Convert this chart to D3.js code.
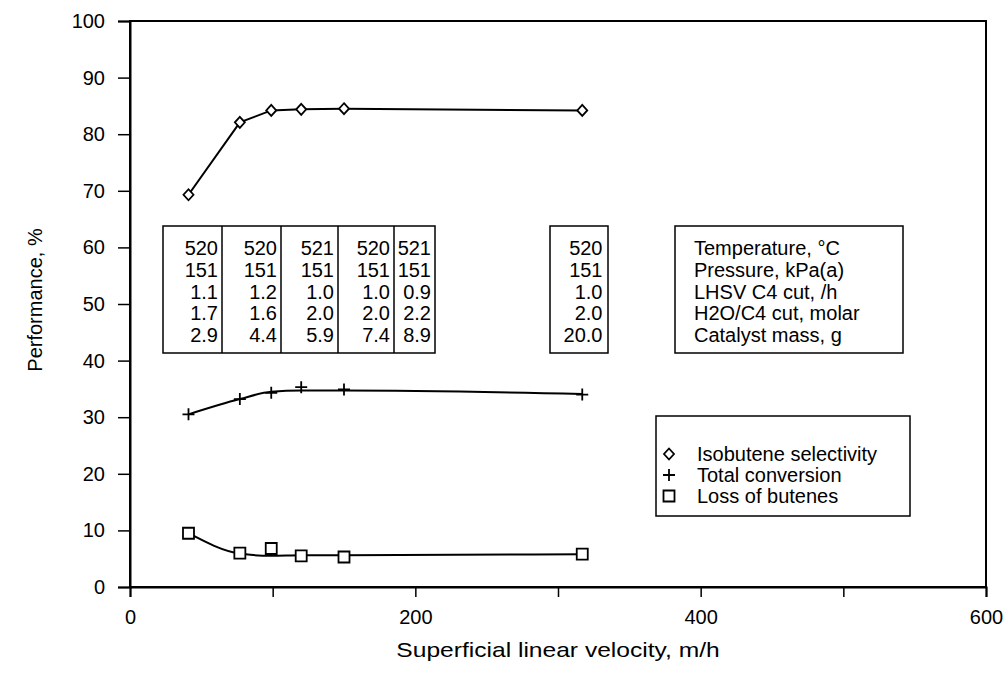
<!DOCTYPE html>
<html>
<head>
<meta charset="utf-8">
<script src="https://cdn.jsdelivr.net/npm/d3@7"></script>
<style>
  html, body { margin: 0; padding: 0; background: #fff; }
  svg { display: block; }
  text { font-family: "Liberation Sans", Arial, sans-serif; fill: #000; }
</style>
</head>
<body>
<svg id="chart" width="1006" height="678"></svg>
<script>
// Measured runs: superficial linear velocity (m/h)
const velocity = [41, 77, 99, 120, 150, 317];

// Performance of each run, %
const isobuteneSelectivity = [69.3, 82.1, 84.2, 84.4, 84.5, 84.2];
const totalConversion      = [30.5, 33.2, 34.3, 35.3, 34.9, 34.0];
const butenesLoss          = [9.5, 6.0, 6.8, 5.5, 5.3, 5.8];

// Smoothed trend lines drawn through the runs
const conversionTrend = [30.5, 33.2, 34.5, 34.7, 34.7, 34.1];
const lossTrend       = [9.5, 5.9, 5.5, 5.6, 5.6, 5.8];

// Operating conditions of each run (one column per run)
const conditionLabels = ["Temperature, °C", "Pressure, kPa(a)", "LHSV C4 cut, /h",
                         "H2O/C4 cut, molar", "Catalyst mass, g"];
const temperature  = ["520", "520", "521", "520", "521", "520"];
const pressure     = ["151", "151", "151", "151", "151", "151"];
const lhsv         = ["1.1", "1.2", "1.0", "1.0", "0.9", "1.0"];
const waterRatio   = ["1.7", "1.6", "2.0", "2.0", "2.2", "2.0"];
const catalystMass = ["2.9", "4.4", "5.9", "7.4", "8.9", "20.0"];

const xTicks = [0, 100, 200, 300, 400, 500, 600];
const xTickLabels = ["0", "", "200", "", "400", "", "600"];
const yTicks = [0, 10, 20, 30, 40, 50, 60, 70, 80, 90, 100];

const seriesNames = ["Isobutene selectivity", "Total conversion", "Loss of butenes"];

// ---- layout ----
const svg = d3.select("#chart");
const m = { left: 130, right: 986, top: 21, bottom: 587 };
const x = d3.scaleLinear().domain([0, 600]).range([m.left, m.right]);
const y = d3.scaleLinear().domain([0, 100]).range([m.bottom, m.top]);
const FS = 20;   // font size

function label(parent, tx, ty, str, anchor = "start", size = FS, sx = 1) {
  return parent.append("text")
    .attr("transform", `translate(${tx},${ty}) scale(${sx},1)`)
    .attr("text-anchor", anchor).attr("font-size", size).text(str);
}
function styleAxisText(g) {
  g.selectAll("text").attr("font-size", FS)
    .attr("font-family", "Liberation Sans, Arial, sans-serif");
}

// frame
svg.append("rect")
  .attr("x", m.left).attr("y", m.top)
  .attr("width", m.right - m.left).attr("height", m.bottom - m.top)
  .attr("fill", "none").attr("stroke", "#000").attr("stroke-width", 2);

// y axis
const yAxis = d3.axisLeft(y).tickValues(yTicks).tickSize(12).tickPadding(13)
  .tickFormat(d3.format("d"));
svg.append("g").attr("transform", `translate(${m.left},0)`).call(yAxis)
  .call(g => g.select(".domain").attr("stroke-width", 2))
  .call(g => g.selectAll(".tick line").attr("stroke-width", 1.5))
  .call(styleAxisText);

// x axis
const xAxis = d3.axisBottom(x).tickValues(xTicks).tickSize(10).tickPadding(13)
  .tickFormat((d, i) => xTickLabels[i]);
svg.append("g").attr("transform", `translate(0,${m.bottom})`).call(xAxis)
  .call(g => g.select(".domain").attr("stroke-width", 2))
  .call(g => g.selectAll(".tick line").attr("stroke-width", 1.5))
  .call(styleAxisText);

// axis titles
svg.append("text")
  .attr("transform", "translate(42,300) rotate(-90)")
  .attr("text-anchor", "middle").attr("font-size", FS)
  .text("Performance, %");
label(svg, (m.left + m.right) / 2, 657, "Superficial linear velocity, m/h", "middle", 20.5, 1.2);

// ---- curves ----
const lineOf = (vals, curve) => d3.line()
  .x((d, i) => x(velocity[i])).y(d => y(d))
  .curve(curve)(vals);

[[isobuteneSelectivity, d3.curveLinear],
 [conversionTrend, d3.curveMonotoneX],
 [lossTrend, d3.curveMonotoneX]].forEach(([vals, curve]) => {
  svg.append("path").attr("d", lineOf(vals, curve))
    .attr("fill", "none").attr("stroke", "#000").attr("stroke-width", 2);
});

// ---- markers ----
const diamond = (cx, cy) => `M${cx},${cy - 5.5}L${cx + 5},${cy}L${cx},${cy + 5.5}L${cx - 5},${cy}Z`;
const plus = (cx, cy) => `M${cx - 6},${cy}H${cx + 6}M${cx},${cy - 6}V${cy + 6}`;
const square = (cx, cy) => `M${cx - 5.5},${cy - 5.5}H${cx + 5.5}V${cy + 5.5}H${cx - 5.5}Z`;

const markerSets = [
  { vals: isobuteneSelectivity, shape: diamond },
  { vals: totalConversion, shape: plus },
  { vals: butenesLoss, shape: square }
];
markerSets.forEach(s => {
  svg.append("g").selectAll("path").data(s.vals).join("path")
    .attr("d", (d, i) => s.shape(x(velocity[i]), y(d)))
    .attr("fill", "#fff").attr("stroke", "#000").attr("stroke-width", 1.8);
});

// ---- conditions tables ----
const conditionRows = [temperature, pressure, lhsv, waterRatio, catalystMass];
const boxTop = 226, boxBottom = 353;
const rowBaseline = [255, 277, 298.5, 320, 341.5];

// first five runs share one ruled table
const tableCols = [163, 222, 281, 338, 394, 435];
svg.append("rect").attr("x", tableCols[0]).attr("y", boxTop)
  .attr("width", tableCols[5] - tableCols[0]).attr("height", boxBottom - boxTop)
  .attr("fill", "#fff").attr("stroke", "#000").attr("stroke-width", 1.5);
tableCols.slice(1, 5).forEach(cx => {
  svg.append("line").attr("x1", cx).attr("x2", cx).attr("y1", boxTop).attr("y2", boxBottom)
    .attr("stroke", "#000").attr("stroke-width", 1.5);
});
for (let c = 0; c < 5; c++) {
  conditionRows.forEach((row, r) => {
    label(svg, tableCols[c + 1] - 4, rowBaseline[r], row[c], "end");
  });
}

// the long-bed run in its own box
svg.append("rect").attr("x", 550).attr("y", boxTop)
  .attr("width", 58).attr("height", boxBottom - boxTop)
  .attr("fill", "#fff").attr("stroke", "#000").attr("stroke-width", 1.5);
conditionRows.forEach((row, r) => {
  label(svg, 602.5, rowBaseline[r], row[5], "end");
});

// row captions
svg.append("rect").attr("x", 675).attr("y", boxTop)
  .attr("width", 228).attr("height", boxBottom - boxTop)
  .attr("fill", "#fff").attr("stroke", "#000").attr("stroke-width", 1.5);
conditionLabels.forEach((t, r) => label(svg, 694, rowBaseline[r], t));

// ---- legend ----
svg.append("rect").attr("x", 656).attr("y", 416).attr("width", 254).attr("height", 100)
  .attr("fill", "#fff").attr("stroke", "#000").attr("stroke-width", 1.5);
const legendShapes = [diamond, plus, square];
seriesNames.forEach((name, i) => {
  const base = 461 + i * 21;
  svg.append("path").attr("d", legendShapes[i](669, base - 7))
    .attr("fill", "#fff").attr("stroke", "#000").attr("stroke-width", 1.8);
  label(svg, 697, base, name);
});
</script>
</body>
</html>
